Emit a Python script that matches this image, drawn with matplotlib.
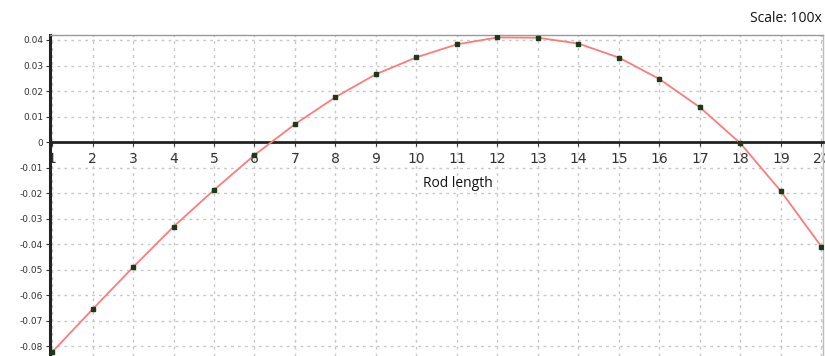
import matplotlib
matplotlib.use("Agg")
import matplotlib.pyplot as plt

rod_length = list(range(1, 21))
values = [-0.0824, -0.0656, -0.0491, -0.0332, -0.0188, -0.0051, 0.0070, 0.0176,
          0.0266, 0.0332, 0.0383, 0.0410, 0.0409, 0.0386, 0.0331, 0.0247,
          0.0136, -0.0005, -0.0193, -0.0410]
y_ticks = [0.04, 0.03, 0.02, 0.01, 0, -0.01, -0.02, -0.03, -0.04, -0.05, -0.06, -0.07, -0.08]
y_tick_labels = ["0.04", "0.03", "0.02", "0.01", "0", "-0.01", "-0.02", "-0.03",
                 "-0.04", "-0.05", "-0.06", "-0.07", "-0.08"]

fig = plt.figure(figsize=(8.25, 3.56), dpi=100)
ax = fig.add_axes([50/825, 0, (823-50)/825, 1 - 35/356])
ax.set_xlim(0.95, 20.04)
ax.set_ylim(-0.0839, 0.04196)

ax.plot(rod_length, values, color="#ff7b7b", lw=1.3, zorder=3)
ax.plot(rod_length, values, ls="none", marker="s", ms=3, color="#1a3a1a", zorder=4)

ax.set_xticks(rod_length)
ax.set_xticklabels([str(v) for v in rod_length], fontsize=6.5, color="#333333")
ax.set_yticks(y_ticks)
ax.set_yticklabels(y_tick_labels, fontsize=6.5, color="#333333")

ax.grid(True, color="#c8c8c8", ls=(0, (2, 3)), lw=1.0)
ax.set_axisbelow(True)

ax.spines["bottom"].set_position(("data", 0))
ax.spines["bottom"].set_linewidth(2)
ax.spines["bottom"].set_color("#222222")
ax.spines["left"].set_linewidth(2.2)
ax.spines["left"].set_color("#222222")
ax.spines["top"].set_color("#999999")
ax.spines["top"].set_linewidth(1)
ax.spines["right"].set_color("#bbbbbb")
ax.spines["right"].set_linewidth(1)

ax.tick_params(axis="x", direction="out", length=3, pad=4, colors="#333333")
ax.tick_params(axis="y", direction="out", length=3, pad=2, colors="#333333")

ax.text(0.528, 0.536, "Rod length", transform=ax.transAxes, family="Open Sans",
        fontsize=10, ha="center", va="center", color="#111111")
fig.text(822/825, 1 - 18/356, "Scale: 100x", family="Open Sans", fontsize=10,
         ha="right", va="center", color="#111111")

fig.savefig("out.png", dpi=100)
